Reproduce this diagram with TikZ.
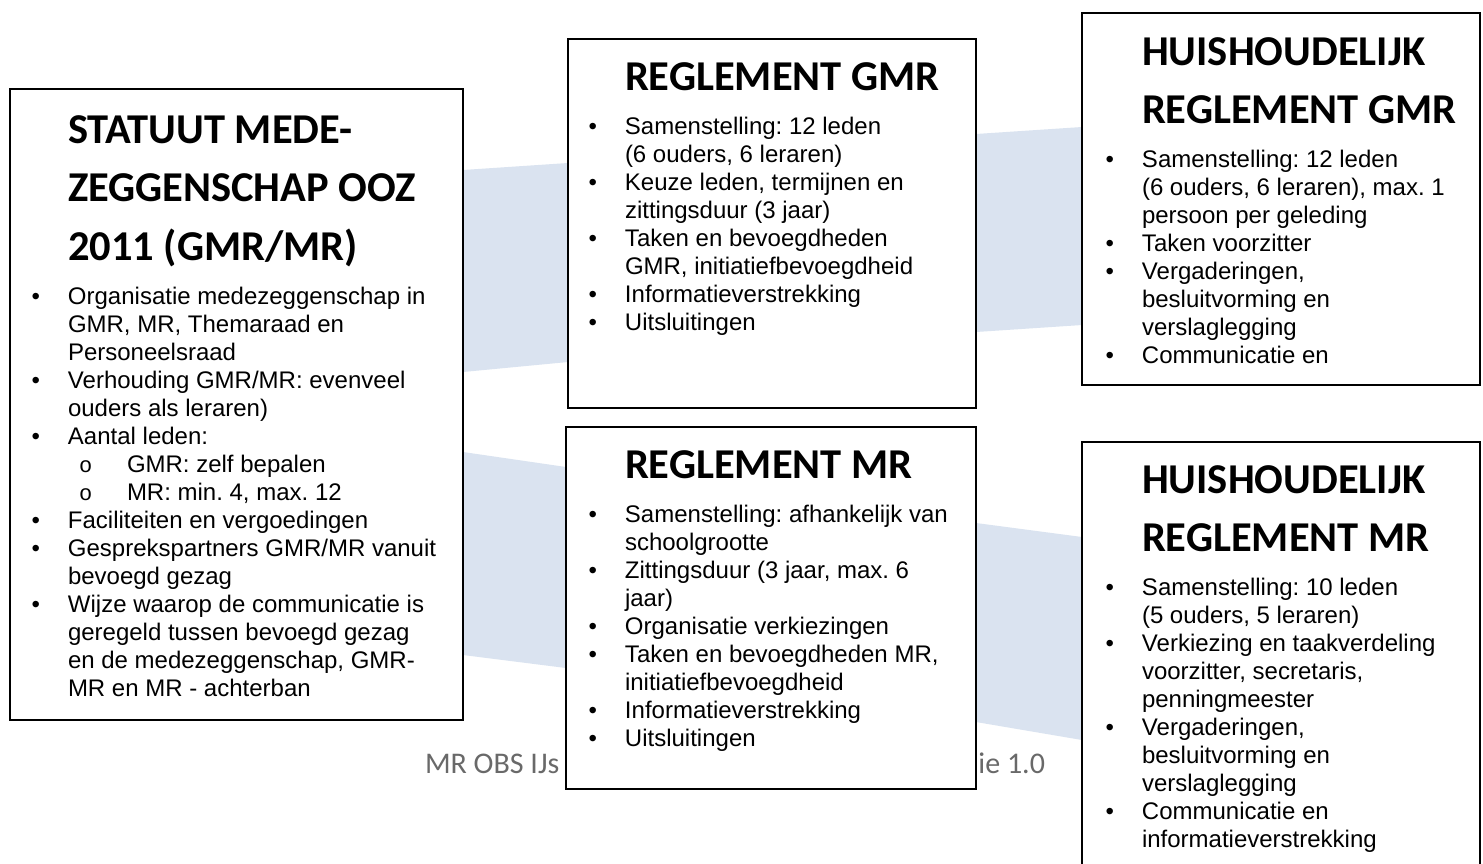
\documentclass[tikz,border=0pt]{standalone}
\usepackage{fontspec}
\setmainfont{Liberation Sans}
\setmonofont{Liberation Mono}
\newfontfamily\titlefont{Carlito}
\newfontfamily\footfont{Carlito}
\usetikzlibrary{positioning,backgrounds}

\definecolor{bandblue}{RGB}{218,227,240}
\definecolor{footgray}{RGB}{105,105,105}

\newcommand{\bodyfont}{\fontsize{24}{28}\selectfont}
\newcommand{\boxtitle}[1]{{\titlefont\bfseries\fontsize{42.5}{58.5}\selectfont #1\par}\vspace{16pt}}
\newcommand{\itm}[1]{\par\noindent\llap{\textbullet\hskip 28pt}#1}
\newcommand{\subitm}[1]{\par\noindent\hspace*{11pt}\makebox[48pt][l]{\fontsize{22}{28}\ttfamily o}#1}
\newcommand{\doccontent}[2]{\begin{minipage}[t]{400pt}\raggedright\frenchspacing\boxtitle{#1}\bodyfont #2\end{minipage}}

\begin{document}
\begin{tikzpicture}[x=1pt, y=-1pt,
    docbox/.style={draw=black, line width=1.3pt, fill=white, inner sep=0pt, outer sep=0pt, anchor=north west},
    doctext/.style={anchor=base west, inner sep=0pt, outer sep=0pt},
    foottext/.style={inner sep=0pt, outer sep=0pt, text=footgray, font=\footfont\fontsize{30}{36}\selectfont},
    bandfill/.style={fill=bandblue},
  ]
  \useasboundingbox (0,0) rectangle (1483,863);
  \clip (0,0) rectangle (1483,863);

  %Footer
  \node[foottext, anchor=base west] (footl) at (425,773) {MR OBS IJs};
  \node[foottext, anchor=base east] (footr) at (1045,773) {ie 1.0};

  %Boxes
  \node[docbox, minimum width=453pt, minimum height=631pt] (statuut) at (10,89) {};
  \node[docbox, minimum width=408pt, minimum height=369pt] (reggmr) at (568,39) {};
  \node[docbox, minimum width=410pt, minimum height=362pt] (regmr) at (566,427) {};
  \node[docbox, minimum width=398pt, minimum height=372pt] (hhgmr) at (1082,13) {};
  \node[docbox, minimum width=398pt, minimum height=440pt] (hhmr) at (1082,442) {};

  %Texts
  \node[doctext] (statuuttxt) at ([shift={(58,54)}]statuut.north west) {\doccontent{STATUUT MEDE-\\ZEGGENSCHAP OOZ\\2011 (GMR/MR)}{%
    \itm{Organisatie medezeggenschap in\\GMR, MR, Themaraad en\\Personeelsraad}
    \itm{Verhouding GMR/MR: evenveel\\ouders als leraren)}
    \itm{Aantal leden:}
    \subitm{GMR: zelf bepalen}
    \subitm{MR: min. 4, max. 12}
    \itm{Faciliteiten en vergoedingen}
    \itm{Gesprekspartners GMR/MR vanuit\\bevoegd gezag}
    \itm{Wijze waarop de communicatie is\\geregeld tussen bevoegd gezag\\en de medezeggenschap, GMR-\\MR en MR - achterban}}};
  \node[doctext] (reggmrtxt) at ([shift={(57,51)}]reggmr.north west) {\doccontent{REGLEMENT GMR}{%
    \itm{Samenstelling: 12 leden\\(6 ouders, 6 leraren)}
    \itm{Keuze leden, termijnen en\\zittingsduur (3 jaar)}
    \itm{Taken en bevoegdheden\\GMR, initiatiefbevoegdheid}
    \itm{Informatieverstrekking}
    \itm{Uitsluitingen}}};
  \node[doctext] (regmrtxt) at ([shift={(59,51)}]regmr.north west) {\doccontent{REGLEMENT MR}{%
    \itm{Samenstelling: afhankelijk van\\schoolgrootte}
    \itm{Zittingsduur (3 jaar, max. 6\\jaar)}
    \itm{Organisatie verkiezingen}
    \itm{Taken en bevoegdheden MR,\\initiatiefbevoegdheid}
    \itm{Informatieverstrekking}
    \itm{Uitsluitingen}}};
  \node[doctext] (hhgmrtxt) at ([shift={(60,52)}]hhgmr.north west) {\doccontent{HUISHOUDELIJK\\REGLEMENT GMR}{%
    \itm{Samenstelling: 12 leden\\(6 ouders, 6 leraren), max. 1\\persoon per geleding}
    \itm{Taken voorzitter}
    \itm{Vergaderingen,\\besluitvorming en\\verslaglegging}
    \itm{Communicatie en}}};
  \node[doctext] (hhmrtxt) at ([shift={(60,51)}]hhmr.north west) {\doccontent{HUISHOUDELIJK\\REGLEMENT MR}{%
    \itm{Samenstelling: 10 leden\\(5 ouders, 5 leraren)}
    \itm{Verkiezing en taakverdeling\\voorzitter, secretaris,\\penningmeester}
    \itm{Vergaderingen,\\besluitvorming en\\verslaglegging}
    \itm{Communicatie en\\informatieverstrekking}}};

  %Bands
  \begin{scope}[on background layer]
    \fill[white] (0,0) rectangle (1483,863);
    \fill[bandfill] (statuut.east |- 0,170) -- (reggmr.west |- 0,163) -- (reggmr.west |- 0,362) -- (statuut.east |- 0,372) -- cycle;
    \fill[bandfill] (reggmr.east |- 0,134) -- (hhgmr.west |- 0,127) -- (hhgmr.west |- 0,325) -- (reggmr.east |- 0,332) -- cycle;
    \fill[bandfill] (statuut.east |- 0,452) -- (regmr.west |- 0,467) -- (regmr.west |- 0,668) -- (statuut.east |- 0,655) -- cycle;
    \fill[bandfill] (regmr.east |- 0,523) -- (hhmr.west |- 0,537) -- (hhmr.west |- 0,740) -- (regmr.east |- 0,722) -- cycle;
  \end{scope}
\end{tikzpicture}
\end{document}
